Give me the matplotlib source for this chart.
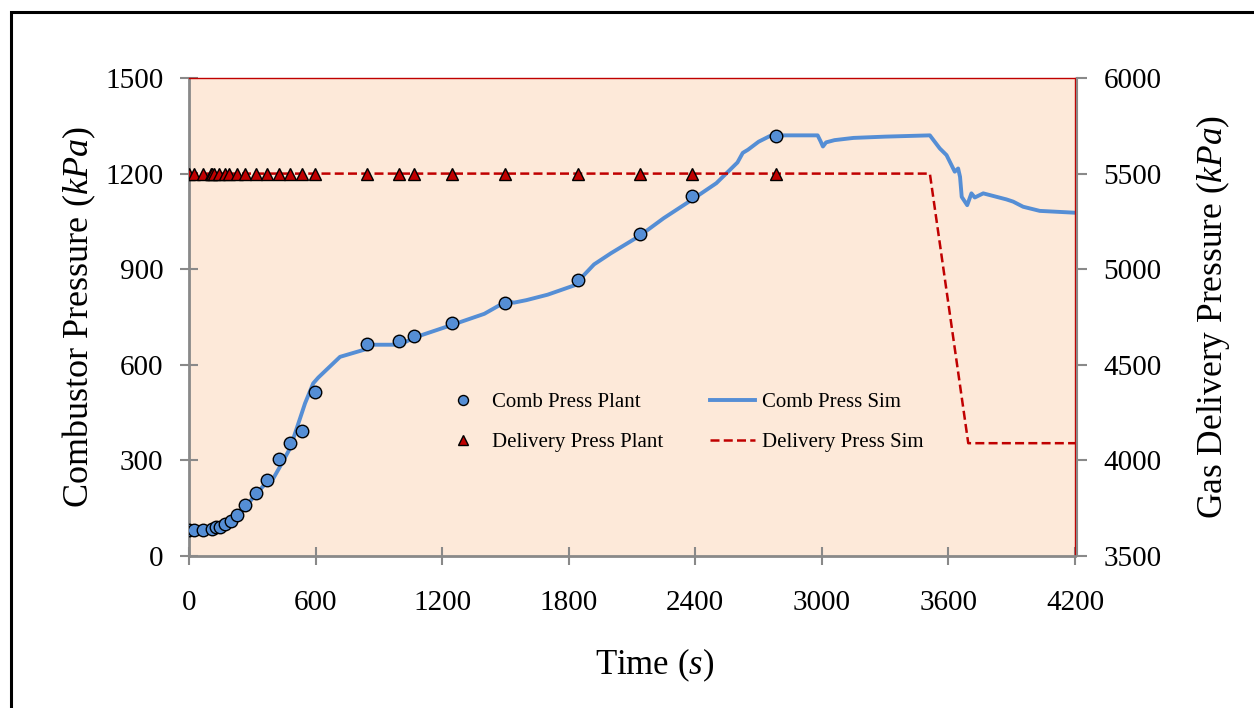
import matplotlib
matplotlib.use("Agg")
import matplotlib.pyplot as plt
from matplotlib.patches import Rectangle

# plant measurements (s, kPa)
comb_plant_t = [0, 24, 64, 110, 128, 147, 172, 198, 226, 267, 317, 368, 425, 477, 535, 595,
                844, 995, 1066, 1246, 1497, 1843, 2137, 2384, 2782]
comb_plant_p = [82, 82, 82, 84, 90, 92, 100, 111, 129, 159, 198, 238, 303, 354, 392, 514,
                665, 675, 690, 731, 794, 866, 1010, 1130, 1318]

deliv_plant_t = [0, 24, 64, 103, 111, 118, 144, 172, 191, 226, 267, 317, 368, 425, 477, 535, 595,
                 844, 995, 1066, 1246, 1497, 1843, 2137, 2384, 2782]
deliv_plant_p = [5500] * len(deliv_plant_t)

# simulation curves
comb_sim_t = [0, 50, 100, 150, 200, 250, 300, 350, 400, 431, 479, 529, 550, 589, 613, 716,
              844, 860, 1000, 1066, 1246, 1400, 1480, 1510, 1540, 1600, 1700, 1843, 1870,
              1920, 2000, 2137, 2250, 2384, 2500, 2600, 2625, 2650, 2700, 2760, 2980, 2995,
              3005, 3020, 3060, 3150, 3300, 3512, 3559, 3591, 3630, 3646, 3655, 3663, 3689,
              3709, 3725, 3765, 3875, 3907, 3954, 4033, 4207]
comb_sim_p = [80, 81, 84, 92, 108, 140, 180, 218, 244, 280, 338, 437, 479, 542, 560, 625,
              650, 663, 663, 685, 725, 760, 790, 800, 795, 803, 820, 853, 880,
              915, 950, 1005, 1060, 1118, 1170, 1235, 1265, 1275, 1300, 1320, 1320, 1300,
              1285, 1298, 1305, 1312, 1316, 1320, 1279, 1258, 1206, 1216, 1190, 1127, 1101,
              1138, 1125, 1138, 1119, 1112, 1096, 1083, 1077]

deliv_sim_t = [0, 3512, 3694, 4200]
deliv_sim_p = [5500, 5500, 4090, 4090]

x_ticks = [0, 600, 1200, 1800, 2400, 3000, 3600, 4200]
left_ticks = [0, 300, 600, 900, 1200, 1500]
right_ticks = [3500, 4000, 4500, 5000, 5500, 6000]

plt.rcParams["font.family"] = ["Liberation Serif", "DejaVu Serif"]
plt.rcParams["mathtext.fontset"] = "custom"
plt.rcParams["mathtext.rm"] = "Liberation Serif"
plt.rcParams["mathtext.it"] = "Liberation Serif:italic"

blue = "#558ED5"
red = "#C00000"
grey = "#898989"

fig = plt.figure(figsize=(12.54, 7.08), dpi=100)
ax = fig.add_axes([189 / 1254, 1 - 556 / 708, 886 / 1254, 478 / 708])
ax.set_facecolor("#FDE9D9")
ax2 = ax.twinx()

l_sim, = ax.plot(comb_sim_t, comb_sim_p, color=blue, lw=2.8, zorder=2)
l_plant, = ax.plot(comb_plant_t, comb_plant_p, "o", ms=9, mfc=blue, mec="black", mew=1.0,
                   zorder=3)
d_sim, = ax2.plot(deliv_sim_t, deliv_sim_p, color=red, lw=1.8, dashes=(3.6, 1.7))
d_plant, = ax2.plot(deliv_plant_t, deliv_plant_p, "^", ms=9, mfc=red, mec="black", mew=1.0)

ax.set_xlim(0, 4200)
ax.set_ylim(0, 1500)
ax2.set_ylim(3500, 6000)
ax.set_xticks(x_ticks)
ax.set_yticks(left_ticks)
ax2.set_yticks(right_ticks)

for s in ax.spines.values():
    s.set_color(red)
    s.set_linewidth(1.0)
ax.spines["left"].set_color(grey)
ax.spines["left"].set_linewidth(2.0)
ax.spines["bottom"].set_color(grey)
ax.spines["bottom"].set_linewidth(2.0)
for k in ["top", "left", "bottom"]:
    ax2.spines[k].set_visible(False)
ax2.spines["right"].set_color(grey)
ax2.spines["right"].set_linewidth(1.5)
ax2.spines["right"].set_position(("outward", 1.5))

ax.tick_params(axis="both", direction="inout", length=13, width=1.5, color=grey,
               labelsize=21, pad=12)
ax.tick_params(axis="x", pad=18)
ax2.tick_params(axis="y", direction="out", length=7, width=1.5, color=grey,
                labelsize=21, pad=12)

ax.set_xlabel("Time ($s$)", fontsize=25, labelpad=22)
ax.xaxis.label.set_x(0.526)
ax.set_ylabel("Combustor Pressure ($kPa$)", fontsize=26, labelpad=5)
ax2.set_ylabel("Gas Delivery Pressure ($kPa$)", fontsize=25.5, labelpad=23)

ax2.legend([l_plant, d_plant, l_sim, d_sim],
           ["Comb Press Plant", "Delivery Press Plant", "Comb Press Sim", "Delivery Press Sim"],
           ncol=2, frameon=False, fontsize=15, loc="upper left",
           bbox_to_anchor=(0.272, 0.364), borderpad=0, handlelength=2.2,
           handletextpad=0.3, columnspacing=2.2, labelspacing=1.0, markerscale=0.8)

fig.patches.append(Rectangle((11 / 1254, -0.1), 1.2, 1 - 12 / 708 + 0.1,
                             transform=fig.transFigure, fill=False, edgecolor="black",
                             lw=2.2))

fig.savefig("out.png", dpi=100)
